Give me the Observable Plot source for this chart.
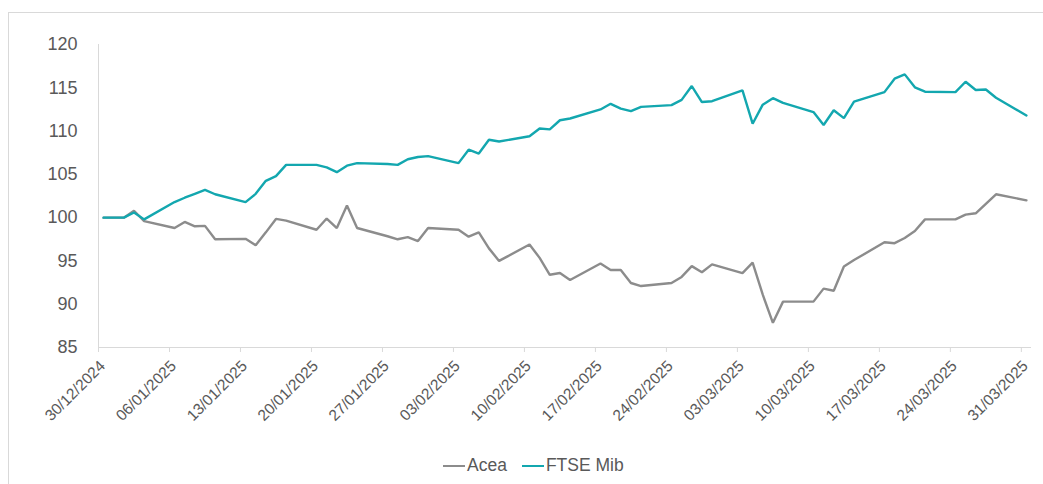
<!DOCTYPE html>
<html>
<head>
<meta charset="utf-8">
<script src="https://cdn.jsdelivr.net/npm/d3@7"></script>
<script src="https://cdn.jsdelivr.net/npm/@observablehq/plot@0.6"></script>
<style>
  html, body { margin: 0; padding: 0; background: #fff; overflow: hidden; }
  #wrap { position: relative; width: 1043px; height: 484px; overflow: hidden; font-family: "Liberation Sans", Arial, sans-serif; }
  #frame { position: absolute; left: 8px; top: 12px; width: 1100px; height: 600px; border: 1px solid #d9d9d9; box-sizing: border-box; }
  #chart { position: absolute; left: 0; top: 0; }
  #legend { position: absolute; left: 443px; top: 455px; display: flex; align-items: center; font-size: 17.5px; color: #595959; white-space: nowrap; }
  .item { display: flex; align-items: center; margin-right: 15px; }
  .sw { width: 22px; height: 0; border-top: 2.5px solid; margin-right: 2px; }
</style>
</head>
<body>
<div id="wrap">
  <div id="frame"></div>
  <div id="chart"></div>
  <div id="legend"></div>
</div>
<script>
const dates = [
  "2024-12-30","2024-12-31","2025-01-01","2025-01-02","2025-01-03",
  "2025-01-06","2025-01-07","2025-01-08","2025-01-09","2025-01-10",
  "2025-01-13","2025-01-14","2025-01-15","2025-01-16","2025-01-17",
  "2025-01-20","2025-01-21","2025-01-22","2025-01-23","2025-01-24",
  "2025-01-27","2025-01-28","2025-01-29","2025-01-30","2025-01-31",
  "2025-02-03","2025-02-04","2025-02-05","2025-02-06","2025-02-07",
  "2025-02-10","2025-02-11","2025-02-12","2025-02-13","2025-02-14",
  "2025-02-17","2025-02-18","2025-02-19","2025-02-20","2025-02-21",
  "2025-02-24","2025-02-25","2025-02-26","2025-02-27","2025-02-28",
  "2025-03-03","2025-03-04","2025-03-05","2025-03-06","2025-03-07",
  "2025-03-10","2025-03-11","2025-03-12","2025-03-13","2025-03-14",
  "2025-03-17","2025-03-18","2025-03-19","2025-03-20","2025-03-21",
  "2025-03-24","2025-03-25","2025-03-26","2025-03-27","2025-03-28",
  "2025-03-31"
];
const acea = [
  100, 100, 100, 100.8, 99.6,
  98.8, 99.5, 99.0, 99.05, 97.5,
  97.55, 96.8, 98.3, 99.85, 99.65,
  98.6, 99.9, 98.8, 101.4, 98.8,
  97.85, 97.5, 97.75, 97.3, 98.8,
  98.6, 97.8, 98.3, 96.45, 95.0,
  96.9, 95.35, 93.4, 93.6, 92.8,
  94.7, 93.95, 93.95, 92.45, 92.1,
  92.45, 93.15, 94.4, 93.7, 94.6,
  93.6, 94.8, 91.1, 87.85, 90.3,
  90.3, 91.8, 91.55, 94.35, 95.1,
  97.15, 97.05, 97.65, 98.45, 99.8,
  99.8, 100.35, 100.5, 101.6, 102.7,
  102.0
];
const ftseMib = [
  100, 100, 100, 100.6, 99.8,
  101.8, 102.3, 102.75, 103.2, 102.7,
  101.8, 102.75, 104.25, 104.8, 106.1,
  106.1, 105.8, 105.25, 106.0, 106.3,
  106.2, 106.1, 106.75, 107.0, 107.1,
  106.3, 107.85, 107.4, 109.0, 108.8,
  109.4, 110.3, 110.2, 111.25, 111.45,
  112.5, 113.15, 112.6, 112.3, 112.8,
  113.0, 113.6, 115.2, 113.35, 113.45,
  114.7, 110.85, 113.05, 113.8, 113.25,
  112.2, 110.7, 112.4, 111.5, 113.4,
  114.5, 116.05, 116.55, 115.05, 114.55,
  114.5, 115.7, 114.75, 114.8, 113.85,
  111.8
];
const seriesNames = ["Acea", "FTSE Mib"];
const seriesColors = ["#8c8c8c", "#13a7af"];
const tickDates = [
  "2024-12-30","2025-01-06","2025-01-13","2025-01-20","2025-01-27",
  "2025-02-03","2025-02-10","2025-02-17","2025-02-24","2025-03-03",
  "2025-03-10","2025-03-17","2025-03-24","2025-03-31"
];
const yTicks = [85, 90, 95, 100, 105, 110, 115, 120];

const HALF_DAY = 12 * 3600 * 1000;
const parse = s => new Date(s + "T00:00:00Z");
const rows = [];
dates.forEach((d, i) => {
  const t = new Date(parse(d).getTime() + HALF_DAY);
  rows.push({date: t, value: acea[i], series: seriesNames[0]});
  rows.push({date: t, value: ftseMib[i], series: seriesNames[1]});
});
const xStart = parse("2024-12-30");
const xEnd = parse("2025-04-01");
const fmt = d3.utcFormat("%d/%m/%Y");

const chart = Plot.plot({
  width: 1043,
  height: 430,
  marginLeft: 98,
  marginRight: 12,
  marginTop: 44,
  marginBottom: 83,
  style: {background: "transparent", fontFamily: "'Liberation Sans', Arial, sans-serif"},
  x: {type: "utc", domain: [xStart, xEnd]},
  y: {domain: [85, 120]},
  color: {domain: seriesNames, range: seriesColors},
  marks: [
    Plot.ruleY([85], {stroke: "#d9d9d9", strokeWidth: 1}),
    Plot.ruleX([xStart], {stroke: "#d9d9d9", strokeWidth: 1}),
    Plot.axisY({ticks: yTicks, tickSize: 0, tickPadding: 21, fontSize: 18, fill: "#595959", label: null}),
    Plot.axisX({
      ticks: tickDates.map(parse), tickSize: 5, stroke: "#d9d9d9", text: null, label: null
    }),
    Plot.axisX({
      ticks: tickDates.map(parse), tickFormat: fmt, tickSize: 0, tickPadding: 11,
      tickRotate: -45, fontSize: 15.5, fill: "#595959", label: null, dx: 4, dy: 5
    }),
    Plot.line(rows, {x: "date", y: "value", z: "series", stroke: "series", strokeWidth: 2.4, strokeLinejoin: "miter", curve: "linear"})
  ]
});
document.getElementById("chart").appendChild(chart);

const legend = document.getElementById("legend");
seriesNames.forEach((name, i) => {
  const item = document.createElement("div");
  item.className = "item";
  const sw = document.createElement("span");
  sw.className = "sw";
  sw.style.borderTopColor = seriesColors[i];
  const label = document.createElement("span");
  label.textContent = name;
  item.appendChild(sw);
  item.appendChild(label);
  legend.appendChild(item);
});
</script>
</body>
</html>
